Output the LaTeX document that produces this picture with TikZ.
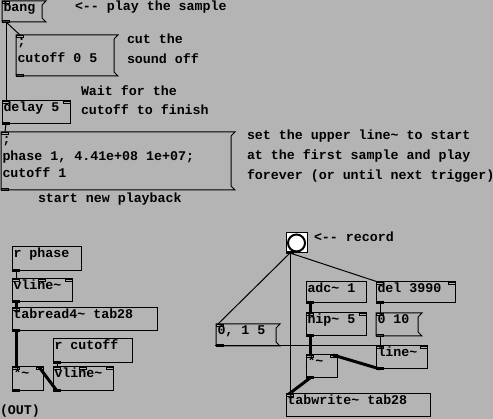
\documentclass[tikz,border=0pt]{standalone}
\usepackage{fontspec}
\setmonofont{Liberation Mono}
\usetikzlibrary{calc}
\definecolor{pdbg}{RGB}{180,180,180}
\newcommand\pdobj[5]{\node[pdbox, minimum width={(#4-#2)*1pt}, minimum height={(#5-#3)*1pt}] (#1) at (#2,#3) {};}
\newcommand\pdmsg[5]{\node[pdmsgbox, minimum width={(#4-#2)*1pt}, minimum height={(#5-#3)*1pt}] (#1) at (#2,#3) {};
  \draw[ctl] (#1.north west) -- ($(#1.north east)+(4,0)$) -- ($(#1.north east)+(0,4)$) -- ($(#1.south east)+(0,-4)$) -- ($(#1.south east)+(4,0)$) -- (#1.south west) -- cycle;}
\newcommand\pdtext[4]{\node[pdtxt] (#1) at (#2,#3) {#4};}
\newcommand\inL[1]{\draw[io] (#1.north west) rectangle ++(7,2);}
\newcommand\inR[1]{\draw[io] ($(#1.north east)+(-7,0)$) rectangle ++(7,2);}
\newcommand\inM[1]{\draw[io] ($(#1.north)+(-3.5,0)$) rectangle ++(7,2);}
\newcommand\outL[1]{\draw[io] (#1.south west) rectangle ++(7,-2);}
\begin{document}
\begin{tikzpicture}[x=1pt,y=-1pt,
  every node/.style={inner sep=0pt, outer sep=0pt},
  pdbox/.style={draw=black, line width=1pt, rectangle, anchor=north west},
  pdmsgbox/.style={rectangle, anchor=north west},
  pdtxt/.style={anchor=base west, font=\ttfamily\bfseries\fontsize{13.3}{17}\selectfont},
  ctl/.style={line width=1pt, black},
  sig/.style={line width=3pt, black},
  io/.style={line width=0.8pt, black}]
\fill[pdbg] (0,0) rectangle (493,419);
\useasboundingbox (0,0) rectangle (493,419);

% ---------- top part ----------
\pdmsg{mbang}{2}{1}{42}{22}
\pdtext{tbang}{3.5}{12}{bang}
\inL{mbang}\outL{mbang}
\pdtext{cplay}{75}{11}{<-- play the sample}

\pdmsg{mcut}{16}{35}{114}{76}
\pdtext{tcut1}{17.5}{46}{;}
\pdtext{tcut2}{17.5}{63}{cutoff 0 5}
\inL{mcut}\outL{mcut}
\pdtext{ccut1}{127}{44}{cut the}
\pdtext{ccut2}{127}{64}{sound off}

\pdobj{odelay}{2}{101}{70}{124}
\pdtext{tdelay}{3.5}{112}{delay 5}
\inL{odelay}\inR{odelay}\outL{odelay}
\pdtext{cwait1}{81}{96}{Wait for the}
\pdtext{cwait2}{81}{115}{cutoff to finish}

\pdmsg{mplay}{1}{132}{231}{190}
\pdtext{tplay1}{2.5}{144}{;}
\pdtext{tplay2}{2.5}{161}{phase 1, 4.41e+08 1e+07;}
\pdtext{tplay3}{2.5}{178}{cutoff 1}
\inL{mplay}\outL{mplay}
\pdtext{cset1}{247}{140}{set the upper line\char`~{} to start}
\pdtext{cset2}{247}{160}{at the first sample and play}
\pdtext{cset3}{247}{180}{forever (or until next trigger)}
\pdtext{cstart}{38}{203}{start new playback}

\draw[ctl] ($(mbang.south west)+(4,0)$) -- ($(odelay.north west)+(4,0)$);
\draw[ctl] ($(mbang.south west)+(4,0)$) -- ($(mcut.north west)+(4,0)$);
\draw[ctl] ($(odelay.south west)+(4,0)$) -- ($(mplay.north west)+(4,0)$);

% ---------- bottom left ----------
\pdobj{orphase}{12}{247}{81}{271}
\pdtext{trphase}{13.5}{258}{r phase}
\outL{orphase}

\pdobj{ovlinea}{12}{279}{72}{302}
\pdtext{tvlinea}{13.5}{290}{vline\char`~}
\inL{ovlinea}\inM{ovlinea}\inR{ovlinea}\outL{ovlinea}

\pdobj{otabread}{12}{308}{157}{331}
\pdtext{ttabread}{13.5}{319}{tabread4\char`~{} tab28}
\inL{otabread}\outL{otabread}

\pdobj{orcut}{53}{339}{132}{363}
\pdtext{trcut}{54.5}{350}{r cutoff}
\outL{orcut}

\pdobj{omula}{12}{367}{43}{391}
\pdtext{tmula}{13.5}{378}{*\char`~}
\inL{omula}\inR{omula}\outL{omula}

\pdobj{ovlineb}{53}{367}{113}{391}
\pdtext{tvlineb}{54.5}{378}{vline\char`~}
\inL{ovlineb}\inM{ovlineb}\inR{ovlineb}\outL{ovlineb}

\pdtext{cout}{0}{415}{(OUT)}

\draw[ctl] ($(orphase.south west)+(4,0)$) -- ($(ovlinea.north west)+(4,0)$);
\draw[sig] ($(ovlinea.south west)+(4,0)$) -- ($(otabread.north west)+(4,0)$);
\draw[sig] ($(otabread.south west)+(4,0)$) -- ($(omula.north west)+(4,0)$);
\draw[ctl] ($(orcut.south west)+(4,0)$) -- ($(ovlineb.north west)+(4,0)$);
\draw[sig] ($(ovlineb.south west)+(4,0)$) -- ($(omula.north east)+(-4,0)$);

% ---------- bottom right ----------
\node[pdbox, fill=white, minimum width=21pt, minimum height=20pt] (obng) at (286,233) {};
\node[circle, draw=black, line width=2pt, fill=white, minimum size=17pt] (obngc) at (obng.center) {};
\outL{obng}
\pdtext{crec}{314}{242}{<-- record}

\pdmsg{mzero}{216}{324}{276}{346}
\pdtext{tzero}{217.5}{335}{0, 1 5}
\inL{mzero}\outL{mzero}

\pdobj{oadc}{306}{282}{366}{303}
\pdtext{tadc}{307.5}{293}{adc\char`~{} 1}
\outL{oadc}

\pdobj{odel}{376}{282}{455}{303}
\pdtext{tdel}{377.5}{293}{del 3990}
\inL{odel}\inR{odel}\outL{odel}

\pdobj{ohip}{306}{313}{366}{336}
\pdtext{thip}{307.5}{324}{hip\char`~{} 5}
\inL{ohip}\inR{ohip}\outL{ohip}

\pdmsg{mten}{376}{313}{418}{336}
\pdtext{tten}{377.5}{324}{0 10}
\inL{mten}\outL{mten}

\pdobj{oline}{376}{346}{427}{369}
\pdtext{tline}{377.5}{357}{line\char`~}
\inL{oline}\inR{oline}\outL{oline}

\pdobj{omulb}{306}{355}{337}{378}
\pdtext{tmulb}{307.5}{366}{*\char`~}
\inL{omulb}\inR{omulb}\outL{omulb}

\pdobj{otabw}{286}{394}{430}{417}
\pdtext{ttabw}{287.5}{405}{tabwrite\char`~{} tab28}
\inL{otabw}

\draw[ctl] ($(obng.south west)+(4,0)$) -- ($(mzero.north west)+(2,0)$);
\draw[ctl] ($(obng.south west)+(4,0)$) -- ($(otabw.north west)+(4,0)$);
\draw[ctl] ($(obng.south west)+(4,0)$) -- ($(odel.north west)+(2,0)$);
\draw[sig] ($(oadc.south west)+(4,0)$) -- ($(ohip.north west)+(4,0)$);
\draw[sig] ($(ohip.south west)+(4,0)$) -- ($(omulb.north west)+(4,0)$);
\draw[ctl] ($(odel.south west)+(4,0)$) -- ($(mten.north west)+(4,0)$);
\draw[ctl] ($(mten.south west)+(4,0)$) -- ($(oline.north west)+(4,0)$);
\draw[ctl] ($(mzero.south west)+(-1,0)$) -- ($(oline.north west)+(4,0)$);
\draw[sig] ($(oline.south west)+(4,0)$) -- ($(omulb.north east)+(-4,0)$);
\draw[sig] ($(omulb.south west)+(4,0)$) -- ($(otabw.north west)+(3,0)$);
\end{tikzpicture}
\end{document}
